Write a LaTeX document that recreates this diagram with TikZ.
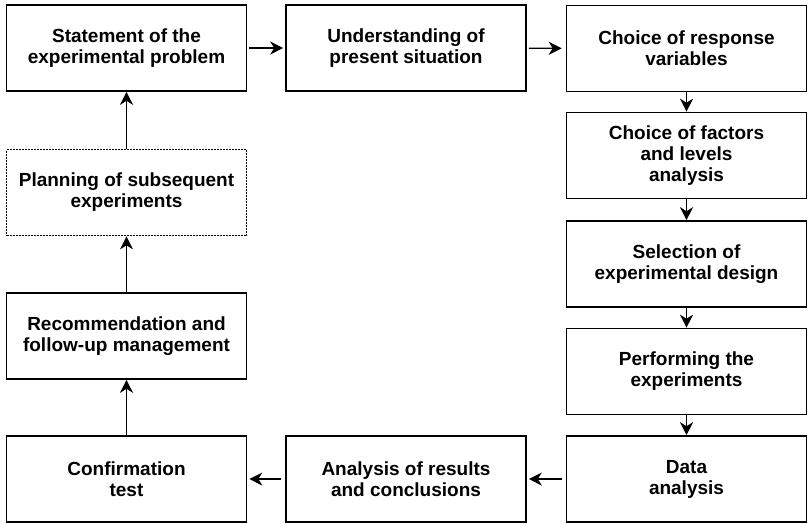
\documentclass[tikz,border=0pt]{standalone}
\usepackage{fontspec}
\setmainfont{Liberation Sans}
\usetikzlibrary{arrows.meta}

\begin{document}
\begin{tikzpicture}[x=1pt,y=-1pt]
  \tikzset{stepbox/.style={draw=black,line width=1.6pt,rectangle,align=center,inner sep=0pt,
      minimum width=240pt,minimum height=86pt,font=\fontsize{19}{21}\selectfont\bfseries}}
  \tikzset{dottedbox/.style={stepbox,line width=1.7pt,dash pattern=on 2pt off 1pt}}
  \tikzset{flowedge/.style={draw=black,line width=1.4pt,-{Stealth[length=13pt,width=13pt,inset=4pt]}}}

  \useasboundingbox (0,0) rectangle (808,523);

  \node[stepbox] (statement)  at (126.5, 48.0)  {Statement of the\\experimental problem};
  \node[stepbox] (situation)  at (406.0, 48.0)  {Understanding of\\present situation};
  \node[stepbox] (response)   at (686.5, 48.5)  {Choice of response\\variables};
  \node[stepbox] (factors)    at (686.5, 155.5) {Choice of factors\\and levels\\analysis};
  \node[stepbox] (design)     at (686.5, 264.0) {Selection of\\experimental design};
  \node[stepbox] (performing) at (686.5, 371.5) {Performing the\\experiments};
  \node[stepbox] (data)       at (686.5, 479.0) {Data\\analysis};
  \node[stepbox] (results)    at (406.0, 479.0) {Analysis of results\\and conclusions};
  \node[stepbox] (confirm)    at (126.5, 479.0) {Confirmation\\test};
  \node[stepbox] (recommend)  at (126.5, 336.0) {Recommendation and\\follow-up management};
  \node[dottedbox] (planning) at (126.5, 192.5) {Planning of subsequent\\experiments};

  \draw[flowedge,shorten <=2pt,shorten >=2pt] (statement) -- (situation);
  \draw[flowedge,shorten <=2pt,shorten >=4pt] (situation) -- (response);
  \draw[flowedge] (response) -- (factors);
  \draw[flowedge] (factors) -- (design);
  \draw[flowedge] (design) -- (performing);
  \draw[flowedge] (performing) -- (data);
  \draw[flowedge,shorten <=4pt,shorten >=2pt] (data) -- (results);
  \draw[flowedge,shorten <=4pt,shorten >=2pt] (results) -- (confirm);
  \draw[flowedge] (confirm) -- (recommend);
  \draw[flowedge] (recommend) -- (planning);
  \draw[flowedge] (planning) -- (statement);
\end{tikzpicture}
\end{document}
